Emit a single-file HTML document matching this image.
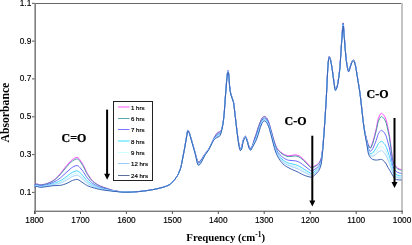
<!DOCTYPE html>
<html><head><meta charset="utf-8"><style>
html,body{margin:0;padding:0;background:#fff;}
svg{display:block;will-change:transform;}
.tk{font-family:"Liberation Sans",sans-serif;font-size:8.3px;fill:#000;stroke:#000;stroke-width:0.15px;}
.lg{font-family:"Liberation Sans",sans-serif;font-size:6.1px;fill:#000;stroke:#000;stroke-width:0.18px;}
.bt{font-family:"Liberation Serif",serif;font-weight:bold;fill:#000;}
</style></head><body>
<svg width="412" height="245" viewBox="0 0 412 245">
<rect width="412" height="245" fill="#fff"/>
<line x1="34.5" y1="3.5" x2="401.5" y2="3.5" stroke="#666" stroke-width="1"/>
<rect x="401" y="3" width="2" height="208" fill="#c4c4c4"/>
<rect x="34.4" y="3" width="1.6" height="211" fill="#7e7e7e"/>
<rect x="34" y="210.6" width="369" height="1.4" fill="#7a7a7a"/>
<line x1="32" y1="3.3" x2="34.5" y2="3.3" stroke="#555" stroke-width="1"/>
<text x="31.3" y="5.8" text-anchor="end" class="tk">1.1</text>
<line x1="32" y1="41.1" x2="34.5" y2="41.1" stroke="#555" stroke-width="1"/>
<text x="31.3" y="43.6" text-anchor="end" class="tk">0.9</text>
<line x1="32" y1="78.9" x2="34.5" y2="78.9" stroke="#555" stroke-width="1"/>
<text x="31.3" y="81.4" text-anchor="end" class="tk">0.7</text>
<line x1="32" y1="116.8" x2="34.5" y2="116.8" stroke="#555" stroke-width="1"/>
<text x="31.3" y="119.3" text-anchor="end" class="tk">0.5</text>
<line x1="32" y1="154.6" x2="34.5" y2="154.6" stroke="#555" stroke-width="1"/>
<text x="31.3" y="157.1" text-anchor="end" class="tk">0.3</text>
<line x1="32" y1="192.4" x2="34.5" y2="192.4" stroke="#555" stroke-width="1"/>
<text x="31.3" y="194.9" text-anchor="end" class="tk">0.1</text>
<line x1="34.5" y1="211" x2="34.5" y2="214" stroke="#555" stroke-width="1"/>
<text x="34.5" y="223" text-anchor="middle" class="tk">1800</text>
<line x1="80.5" y1="211" x2="80.5" y2="214" stroke="#555" stroke-width="1"/>
<text x="80.5" y="223" text-anchor="middle" class="tk">1700</text>
<line x1="126.4" y1="211" x2="126.4" y2="214" stroke="#555" stroke-width="1"/>
<text x="126.4" y="223" text-anchor="middle" class="tk">1600</text>
<line x1="172.4" y1="211" x2="172.4" y2="214" stroke="#555" stroke-width="1"/>
<text x="172.4" y="223" text-anchor="middle" class="tk">1500</text>
<line x1="218.3" y1="211" x2="218.3" y2="214" stroke="#555" stroke-width="1"/>
<text x="218.3" y="223" text-anchor="middle" class="tk">1400</text>
<line x1="264.2" y1="211" x2="264.2" y2="214" stroke="#555" stroke-width="1"/>
<text x="264.2" y="223" text-anchor="middle" class="tk">1300</text>
<line x1="310.2" y1="211" x2="310.2" y2="214" stroke="#555" stroke-width="1"/>
<text x="310.2" y="223" text-anchor="middle" class="tk">1200</text>
<line x1="356.2" y1="211" x2="356.2" y2="214" stroke="#555" stroke-width="1"/>
<text x="356.2" y="223" text-anchor="middle" class="tk">1100</text>
<line x1="402.1" y1="211" x2="402.1" y2="214" stroke="#555" stroke-width="1"/>
<text x="402.1" y="223" text-anchor="middle" class="tk">1000</text>

<path d="M34.50,184.60 35.75,184.15 36.75,184.01 37.50,184.06 39.25,184.68 40.00,184.80 41.75,184.67 44.50,184.20 46.50,183.66 49.00,182.72 50.75,181.92 52.50,180.91 55.25,178.93 56.75,177.54 58.25,175.96 60.75,173.10 66.50,165.74 71.00,160.73 72.50,159.46 74.50,158.24 75.75,157.64 77.00,157.40 77.50,157.49 78.00,157.75 79.00,158.66 80.00,159.95 82.25,163.27 83.50,165.50 86.25,171.40 87.50,173.74 90.75,178.63 92.00,180.18 93.00,181.21 94.50,182.46 96.25,183.71 98.25,184.91 100.25,185.92 103.25,187.12 112.00,190.12 114.50,190.74 117.25,191.19 120.75,191.68 123.75,191.95 126.75,192.00 132.00,191.90 136.00,191.76 139.25,191.51 145.25,190.82 149.25,190.26 153.50,189.52 157.75,188.62 162.00,187.57 164.75,186.75 167.25,185.78 169.75,184.53 170.75,183.72 173.75,180.63 175.00,179.17 176.25,177.47 177.50,175.50 178.50,173.59 180.25,169.23 181.00,166.71 181.50,164.40 184.50,148.70 187.25,132.45 187.50,131.12 187.75,130.42 188.00,130.46 188.50,131.00 189.50,132.96 193.00,145.05 196.75,158.57 197.75,161.03 198.25,161.75 198.50,161.80 199.00,161.65 199.75,161.23 200.50,160.54 202.00,158.49 204.50,154.50 207.50,150.68 208.50,149.26 210.00,146.53 213.75,138.43 215.25,135.69 216.25,134.12 217.25,132.96 218.00,132.31 218.50,132.08 219.75,131.72 220.25,131.43 220.75,130.88 221.25,130.08 221.75,128.89 222.50,125.72 223.25,121.42 223.75,117.44 224.25,112.44 225.25,98.02 226.75,78.71 227.00,76.00 227.50,72.26 227.75,70.99 228.00,70.50 228.25,70.95 228.75,73.66 229.00,76.27 229.50,84.82 230.25,91.13 231.00,94.49 233.25,101.10 233.75,103.18 237.00,130.86 238.00,138.67 239.00,144.73 239.75,147.57 240.25,148.72 240.50,148.78 241.00,148.30 241.75,146.81 242.75,141.80 243.25,139.87 244.50,137.03 245.00,136.38 245.25,136.23 245.50,136.22 245.75,136.44 246.25,137.45 247.50,141.10 248.50,144.88 249.00,146.41 249.75,147.59 250.25,148.12 250.75,148.30 251.00,148.17 251.25,147.88 252.25,145.91 252.75,144.61 254.25,139.35 256.00,134.30 258.00,127.80 260.00,122.34 261.50,119.05 262.25,117.79 263.50,116.61 264.00,116.35 264.50,116.32 265.00,116.50 265.50,116.82 266.75,118.02 267.50,119.30 268.50,121.50 269.50,124.49 273.75,139.63 274.75,142.86 276.00,146.14 276.75,147.75 277.50,148.92 278.75,150.41 280.50,151.98 283.00,153.81 284.50,154.60 287.25,155.65 288.00,155.78 289.00,155.77 294.00,155.01 295.50,154.90 297.00,155.12 299.00,155.81 300.50,156.76 303.25,159.05 308.25,164.26 309.75,166.04 310.50,166.77 311.25,167.17 311.75,167.19 312.75,166.95 313.75,166.49 316.25,165.13 317.50,164.31 318.75,163.17 319.50,162.18 320.50,160.09 321.25,157.82 322.00,153.68 323.00,145.00 324.75,122.17 326.25,98.45 327.75,67.88 328.25,61.56 328.75,57.62 329.00,56.60 329.25,56.55 329.50,56.80 330.25,58.38 330.75,60.11 332.00,67.25 334.50,85.53 335.00,88.35 335.25,89.07 335.50,89.18 335.75,89.02 336.25,88.27 336.75,87.13 337.25,85.71 338.00,81.87 339.00,75.08 339.75,68.68 340.25,62.59 341.00,50.00 342.50,28.27 342.75,24.82 343.00,22.80 343.25,23.01 343.50,25.20 345.25,49.28 346.00,57.21 346.50,61.54 347.50,67.34 348.00,69.50 348.25,70.20 348.50,70.57 348.75,70.54 349.25,69.61 351.50,62.43 352.00,61.26 352.25,60.95 353.00,60.37 353.75,60.10 354.00,60.22 354.25,60.69 354.75,62.31 355.50,65.36 356.00,68.08 359.75,91.21 360.50,97.03 363.25,121.78 364.00,127.11 364.75,131.28 365.75,135.79 367.50,142.24 368.25,144.47 369.25,146.37 370.00,147.34 370.25,147.48 370.50,147.48 370.75,147.28 371.25,146.36 372.75,142.19 374.50,135.82 376.25,128.52 377.75,120.84 378.25,118.74 379.50,115.65 380.50,113.90 381.00,113.43 381.25,113.32 381.75,113.36 382.25,113.62 383.50,114.89 384.25,115.83 384.75,116.65 386.00,119.52 386.75,122.13 389.25,134.21 390.00,139.24 392.25,156.42 392.75,159.22 393.75,162.90 394.25,164.10 395.00,165.33 396.25,166.80 397.25,167.78 398.00,168.30 399.50,169.02 400.50,169.37 401.50,169.50" stroke="#ff33ff" stroke-width="0.9" fill="none"/>
<path d="M34.50,184.75 35.75,184.32 36.75,184.18 37.50,184.23 39.25,184.86 40.00,184.98 41.75,184.86 44.50,184.39 46.75,183.79 49.25,182.87 51.00,182.08 52.75,181.10 54.50,179.95 55.75,178.98 58.75,176.12 60.75,173.95 66.50,166.98 69.75,163.42 71.25,161.92 72.50,160.93 74.75,159.61 76.00,159.09 77.00,158.94 77.75,159.13 78.50,159.66 79.25,160.45 80.25,161.76 82.25,164.60 83.00,165.82 86.25,172.35 87.50,174.58 90.50,178.90 91.75,180.41 93.00,181.66 94.50,182.86 96.25,184.06 98.25,185.20 100.25,186.17 103.25,187.33 112.00,190.19 114.50,190.78 117.75,191.30 121.25,191.76 124.00,191.98 132.00,191.91 136.00,191.76 139.25,191.51 145.25,190.82 149.25,190.25 153.50,189.51 157.75,188.62 162.00,187.57 164.75,186.75 167.25,185.78 169.75,184.53 170.75,183.72 173.75,180.63 175.00,179.17 176.25,177.47 177.50,175.50 178.50,173.59 180.25,169.23 181.00,166.71 181.50,164.40 184.50,148.72 187.25,132.49 187.50,131.16 187.75,130.47 188.00,130.50 188.50,131.05 189.50,133.02 193.25,145.99 196.75,158.75 197.75,161.26 198.25,161.99 198.50,162.04 199.00,161.90 199.75,161.47 200.50,160.76 202.00,158.67 204.50,154.60 207.50,150.75 208.50,149.32 210.00,146.59 213.75,138.56 216.00,134.72 217.00,133.53 217.75,132.83 218.25,132.51 219.75,132.02 220.25,131.71 220.75,131.10 221.25,130.22 221.75,128.97 222.50,125.78 223.25,121.47 223.75,117.49 224.25,112.48 225.25,98.06 226.75,78.81 227.00,76.11 227.50,72.37 227.75,71.09 228.00,70.61 228.25,71.05 228.75,73.77 229.00,76.37 229.50,84.88 230.25,91.17 231.00,94.53 233.25,101.14 233.75,103.22 237.00,130.92 238.00,138.74 239.00,144.83 239.75,147.68 240.25,148.84 240.50,148.91 241.00,148.43 241.75,146.96 242.75,141.92 243.25,139.98 244.50,137.11 245.00,136.45 245.25,136.30 245.50,136.29 245.75,136.51 246.25,137.52 247.50,141.19 248.50,144.99 249.00,146.53 249.75,147.72 250.25,148.26 250.75,148.44 251.00,148.30 251.25,148.01 252.25,146.02 252.75,144.75 254.00,140.45 256.25,134.00 258.00,128.32 260.25,122.17 261.50,119.43 262.25,118.14 263.50,116.94 264.00,116.68 264.50,116.65 265.00,116.82 265.50,117.15 266.25,117.78 266.75,118.35 267.50,119.64 268.50,121.85 269.50,124.84 273.75,140.05 274.75,143.31 276.00,146.61 276.75,148.23 277.75,149.77 279.00,151.23 281.00,153.03 283.00,154.52 284.25,155.23 287.00,156.40 288.00,156.61 288.75,156.63 294.00,156.10 295.75,156.03 297.00,156.26 299.00,156.98 300.50,157.92 303.25,160.16 308.25,165.12 309.75,166.80 310.50,167.49 311.25,167.87 311.75,167.89 312.50,167.72 313.50,167.28 316.25,165.72 317.50,164.87 318.75,163.70 319.50,162.68 320.50,160.55 321.25,158.24 322.00,153.99 323.00,145.18 324.75,122.24 326.25,98.52 327.75,67.95 328.25,61.63 328.75,57.69 329.00,56.67 329.25,56.62 329.50,56.87 330.25,58.45 330.75,60.18 332.00,67.32 334.50,85.61 335.00,88.44 335.25,89.16 335.50,89.28 335.75,89.11 336.25,88.35 336.75,87.21 337.25,85.77 338.00,81.93 339.00,75.15 339.75,68.75 340.25,62.67 341.00,50.10 342.50,28.45 342.75,25.01 343.00,23.01 343.25,23.21 343.50,25.39 345.25,49.35 346.00,57.27 346.50,61.60 347.50,67.42 348.00,69.58 348.25,70.29 348.50,70.65 348.75,70.62 349.25,69.69 351.25,63.26 352.00,61.33 352.25,61.02 353.00,60.43 353.75,60.16 354.00,60.29 354.25,60.75 354.75,62.37 355.50,65.41 356.00,68.13 359.75,91.25 360.50,97.06 363.25,121.81 364.00,127.17 364.75,131.39 365.75,135.98 367.50,142.70 368.25,145.07 369.25,147.04 370.00,148.03 370.25,148.18 370.50,148.18 370.75,148.00 371.25,147.18 372.75,143.40 374.50,137.51 376.50,129.67 378.00,122.52 378.50,120.93 379.75,118.25 380.50,117.09 381.00,116.65 381.25,116.54 381.75,116.59 382.25,116.85 383.50,118.10 384.25,119.02 384.75,119.82 386.00,122.61 386.75,125.13 389.25,136.67 390.00,141.44 392.25,157.70 392.75,160.37 393.75,163.92 394.25,165.08 395.00,166.27 396.25,167.69 397.25,168.62 398.00,169.11 399.50,169.79 400.50,170.11 401.50,170.24" stroke="#339999" stroke-width="0.9" fill="none"/>
<path d="M34.50,185.41 35.75,185.04 37.00,184.93 37.75,185.06 39.25,185.63 40.00,185.76 41.50,185.67 44.00,185.30 46.25,184.83 49.00,184.03 51.00,183.33 53.25,182.38 56.50,180.64 60.25,178.02 70.00,169.13 71.75,167.70 72.75,167.08 75.00,166.00 76.00,165.67 77.00,165.54 77.50,165.62 78.25,165.98 79.00,166.59 79.75,167.37 83.00,171.32 86.25,176.46 87.50,178.18 90.50,181.48 91.75,182.63 93.00,183.60 94.75,184.71 96.50,185.66 98.50,186.58 100.50,187.35 103.00,188.13 108.50,189.62 113.00,190.71 115.00,191.06 120.00,191.73 124.75,192.10 129.00,192.06 135.00,191.84 140.50,191.39 146.00,190.72 150.00,190.13 154.25,189.36 158.25,188.50 162.25,187.50 165.00,186.66 167.50,185.67 169.75,184.53 170.75,183.72 173.75,180.63 175.00,179.17 176.25,177.47 177.50,175.50 178.50,173.59 180.25,169.23 181.00,166.71 181.50,164.41 184.50,148.81 187.25,132.65 187.50,131.34 187.75,130.64 188.00,130.68 188.50,131.25 189.25,132.69 189.75,134.00 194.50,150.69 197.00,160.36 198.00,162.74 198.25,163.04 198.50,163.09 199.00,162.94 199.75,162.49 200.50,161.73 202.00,159.45 204.50,155.06 208.50,149.59 210.00,146.85 213.25,140.00 214.00,138.66 215.25,136.78 216.25,135.53 217.25,134.62 218.25,133.95 219.50,133.45 220.00,133.15 220.25,132.89 220.75,132.02 221.50,130.15 222.25,127.28 223.00,123.30 223.50,119.81 224.25,112.66 225.25,98.25 226.75,79.22 227.00,76.56 227.50,72.83 227.75,71.55 228.00,71.06 228.25,71.50 228.75,74.22 229.00,76.79 229.50,85.14 230.25,91.34 231.00,94.68 233.25,101.31 233.75,103.40 237.00,131.17 238.00,139.02 239.00,145.24 239.75,148.18 240.25,149.38 240.50,149.45 241.00,149.01 241.75,147.59 242.75,142.43 243.25,140.42 244.50,137.44 245.00,136.76 245.25,136.60 245.50,136.59 245.75,136.82 246.25,137.85 247.50,141.59 248.50,145.45 249.00,147.03 249.75,148.27 250.25,148.84 250.75,149.04 251.00,148.89 251.25,148.58 252.50,145.99 254.25,141.03 256.00,136.68 259.75,125.31 261.25,121.58 262.00,120.05 263.00,118.83 263.50,118.38 264.00,118.09 264.25,118.04 264.75,118.12 265.75,118.76 266.75,119.77 267.50,121.09 268.50,123.35 269.50,126.34 274.00,142.78 275.25,146.67 276.25,149.22 277.00,150.78 278.25,152.72 279.75,154.54 281.50,156.27 283.00,157.55 284.25,158.42 286.25,159.48 287.50,159.99 288.50,160.22 295.75,160.90 297.00,161.22 298.50,161.78 300.00,162.59 302.75,164.54 310.50,170.60 311.25,170.88 311.75,170.88 312.25,170.77 313.00,170.44 317.25,167.51 318.25,166.56 319.25,165.27 320.00,163.82 320.75,161.78 321.25,160.02 321.75,157.19 322.50,151.01 323.00,145.92 324.50,126.18 326.25,98.82 327.75,68.25 328.25,61.93 328.75,57.99 329.00,56.97 329.25,56.92 329.50,57.17 330.25,58.75 330.75,60.48 332.00,67.62 334.50,85.96 335.00,88.82 335.25,89.55 335.50,89.66 336.00,89.16 336.50,88.15 337.25,86.06 337.75,83.69 339.00,75.45 339.75,69.04 340.25,62.99 341.00,50.55 342.50,29.19 342.75,25.83 343.00,23.87 343.25,24.07 343.50,26.20 345.25,49.67 346.00,57.55 346.50,61.89 347.50,67.75 348.00,69.93 348.25,70.64 348.50,71.01 348.75,70.98 349.25,70.03 351.25,63.56 352.00,61.63 353.00,60.71 353.75,60.43 354.00,60.56 354.25,61.01 354.75,62.62 355.50,65.65 356.00,68.35 359.75,91.42 360.50,97.18 363.25,121.91 364.25,129.01 365.50,135.69 367.75,145.79 368.50,148.33 369.50,150.37 370.00,151.02 370.25,151.17 370.75,151.10 371.50,150.41 372.75,148.62 374.50,144.74 376.25,140.20 377.75,135.31 378.50,133.47 379.75,131.58 380.75,130.57 381.25,130.37 381.50,130.36 382.00,130.52 382.50,130.85 384.25,132.71 385.00,133.83 386.00,135.85 386.75,137.98 389.25,147.24 390.00,150.88 392.25,163.18 392.75,165.28 393.75,168.26 394.25,169.26 395.00,170.31 395.75,171.07 397.00,172.04 397.75,172.45 399.50,173.06 400.50,173.29 401.50,173.39" stroke="#5a5aff" stroke-width="0.9" fill="none"/>
<path d="M34.50,185.94 35.75,185.62 37.00,185.53 37.75,185.66 39.75,186.37 41.00,186.34 42.50,186.17 45.25,185.74 48.25,185.06 51.75,184.12 55.00,183.05 58.50,181.67 61.00,180.39 64.50,178.02 67.75,175.67 70.75,173.35 72.25,172.38 75.25,171.13 76.25,170.88 77.00,170.82 78.00,171.07 79.25,171.95 82.75,175.43 86.00,179.44 87.25,180.83 90.25,183.36 93.00,185.15 96.75,186.91 100.75,188.27 109.00,190.15 114.00,191.08 121.00,191.93 125.25,192.18 129.50,192.11 135.25,191.85 141.50,191.28 146.50,190.65 150.75,190.00 154.75,189.26 158.75,188.38 162.50,187.43 165.00,186.66 167.50,185.67 169.75,184.53 170.75,183.72 173.75,180.63 175.00,179.17 176.25,177.47 177.50,175.50 178.50,173.59 180.25,169.23 181.00,166.71 181.50,164.41 184.50,148.88 187.25,132.78 187.50,131.47 187.75,130.79 188.00,130.83 188.50,131.41 189.25,132.88 189.75,134.20 194.75,151.78 195.50,154.61 197.00,161.04 198.00,163.57 198.25,163.88 198.50,163.93 199.00,163.78 199.75,163.31 200.50,162.50 202.00,160.07 204.50,155.41 208.50,149.81 209.75,147.56 212.75,141.29 214.25,138.75 215.25,137.48 216.25,136.45 217.75,135.39 219.75,134.36 220.25,133.84 220.50,133.36 221.50,130.52 222.00,128.63 222.75,124.94 223.50,119.96 224.25,112.80 225.25,98.40 226.75,79.55 227.00,76.92 227.50,73.19 227.75,71.91 228.00,71.42 228.25,71.87 228.75,74.58 229.00,77.13 229.50,85.35 230.25,91.47 231.00,94.79 233.25,101.44 233.75,103.55 237.00,131.38 238.00,139.25 239.00,145.57 239.75,148.58 240.25,149.81 240.50,149.88 241.00,149.47 241.75,148.10 243.00,141.62 243.25,140.78 244.50,137.71 245.00,137.00 245.25,136.84 245.50,136.83 245.75,137.06 246.25,138.11 247.50,141.91 248.50,145.82 249.00,147.42 249.75,148.72 250.25,149.31 250.75,149.52 251.00,149.36 251.50,148.57 252.50,146.42 254.25,142.13 256.25,137.57 260.00,126.09 261.50,122.30 262.25,120.88 263.25,119.75 264.00,119.22 264.25,119.17 264.75,119.25 265.75,119.88 266.75,120.90 267.50,122.25 268.50,124.55 269.25,126.70 270.75,131.93 274.25,145.17 275.50,148.95 276.50,151.42 277.50,153.36 279.00,155.63 280.50,157.47 282.00,159.05 283.50,160.40 285.00,161.44 286.75,162.39 288.00,162.92 289.25,163.32 295.25,164.66 297.75,165.47 299.75,166.46 306.00,170.48 310.25,172.97 311.00,173.24 311.50,173.30 312.00,173.23 312.75,172.91 317.25,169.46 318.25,168.42 319.25,167.03 320.00,165.49 320.75,163.32 321.25,161.45 321.75,158.39 323.00,146.52 324.25,130.08 326.25,99.06 327.75,68.49 328.25,62.17 328.75,58.23 329.00,57.21 329.25,57.16 329.50,57.41 330.00,58.38 330.50,59.71 331.00,61.95 332.00,67.86 334.50,86.24 335.00,89.13 335.25,89.86 335.50,89.98 336.00,89.46 336.50,88.42 337.25,86.29 338.00,82.45 339.00,75.69 339.75,69.28 340.25,63.25 341.00,50.91 342.50,29.79 342.75,26.49 343.00,24.56 343.25,24.76 343.50,26.85 345.25,49.93 346.00,57.78 346.50,62.13 347.50,68.01 348.00,70.21 348.25,70.93 348.50,71.30 348.75,71.27 349.25,70.31 350.25,66.87 351.75,62.39 352.25,61.56 353.25,60.79 353.75,60.65 354.00,60.77 354.50,61.94 355.00,63.80 355.50,65.84 356.00,68.53 360.00,93.31 363.25,121.99 364.25,129.27 365.25,135.05 366.75,142.18 367.75,147.56 368.50,150.49 369.50,152.71 370.00,153.41 370.25,153.57 371.25,153.49 372.50,153.03 373.25,152.22 375.50,149.02 376.50,147.34 378.00,144.22 378.50,143.50 379.75,142.24 380.75,141.57 381.50,141.43 382.00,141.58 382.50,141.90 384.00,143.38 384.75,144.30 385.75,145.96 386.50,147.58 389.50,156.54 392.50,168.44 393.25,170.57 394.00,172.22 394.50,172.95 395.25,173.79 396.00,174.36 397.00,174.94 397.75,175.24 399.25,175.62 400.50,175.84 401.50,175.91" stroke="#33ccff" stroke-width="0.9" fill="none"/>
<path d="M34.50,186.18 35.75,185.88 37.00,185.80 37.75,185.94 39.75,186.65 41.00,186.63 42.50,186.46 45.75,185.95 49.75,185.09 57.75,182.98 60.25,182.11 62.50,180.95 67.50,177.88 70.75,175.58 72.25,174.68 75.25,173.53 76.25,173.30 77.00,173.24 77.50,173.30 78.25,173.60 79.50,174.50 82.75,177.48 86.00,180.98 87.50,182.39 90.25,184.33 93.00,185.86 97.00,187.52 101.00,188.72 109.50,190.42 115.00,191.28 121.75,192.04 126.00,192.22 130.00,192.12 135.75,191.83 142.75,191.13 147.50,190.51 151.75,189.83 155.75,189.06 159.75,188.14 163.00,187.29 165.50,186.48 167.75,185.56 169.75,184.53 170.75,183.72 173.75,180.63 175.00,179.17 176.25,177.47 177.50,175.50 178.50,173.59 180.25,169.23 181.00,166.71 181.50,164.42 184.50,148.92 187.25,132.84 187.50,131.54 187.75,130.85 188.00,130.89 188.50,131.48 189.25,132.97 189.75,134.29 195.00,152.79 197.00,161.35 198.00,163.94 198.25,164.26 198.50,164.31 199.25,164.02 200.00,163.48 200.75,162.46 202.00,160.35 204.50,155.58 208.00,150.67 209.00,149.07 212.50,141.91 214.00,139.32 215.00,138.08 216.25,136.87 217.25,136.19 219.50,135.01 220.00,134.62 220.25,134.28 221.00,132.33 222.00,128.75 222.75,125.04 223.50,120.04 224.25,112.87 225.25,98.47 226.75,79.70 227.50,73.36 227.75,72.07 228.00,71.58 228.25,72.03 228.75,74.75 229.00,77.28 229.50,85.44 230.25,91.54 231.00,94.85 233.25,101.51 233.75,103.62 237.00,131.47 238.00,139.35 239.00,145.72 239.75,148.77 240.25,150.01 240.50,150.08 241.00,149.67 241.75,148.34 243.00,141.79 243.25,140.94 244.50,137.84 245.00,137.12 245.25,136.95 245.50,136.94 245.75,137.17 246.25,138.23 247.50,142.06 248.50,145.99 249.00,147.60 249.75,148.92 250.25,149.53 250.75,149.74 251.00,149.58 251.50,148.77 252.75,146.09 256.25,138.30 258.25,132.44 260.00,126.76 261.75,122.34 262.50,121.10 263.50,120.05 264.00,119.74 264.25,119.69 264.75,119.77 265.75,120.40 266.75,121.42 267.50,122.78 268.75,125.75 271.00,133.39 274.50,146.73 276.25,151.60 277.00,153.23 278.25,155.41 279.50,157.21 280.75,158.75 282.25,160.38 283.75,161.75 285.25,162.79 287.00,163.75 289.50,164.77 295.50,166.49 298.25,167.51 299.50,168.15 302.00,169.73 305.50,171.75 310.25,174.13 311.50,174.40 312.00,174.33 312.50,174.13 313.50,173.46 317.00,170.59 318.00,169.58 319.00,168.25 319.75,166.84 320.50,164.85 321.25,162.10 321.50,160.73 322.00,156.85 322.75,149.63 324.25,130.25 326.25,99.17 327.75,68.60 328.25,62.28 328.75,58.34 329.00,57.32 329.25,57.27 329.50,57.52 330.00,58.49 330.50,59.82 331.00,62.06 332.00,67.97 334.50,86.37 335.00,89.27 335.25,90.00 335.50,90.12 336.00,89.60 336.50,88.54 337.25,86.40 338.00,82.56 339.00,75.80 339.75,69.39 340.25,63.37 341.00,51.08 342.50,30.06 342.75,26.79 343.00,24.88 343.25,25.08 343.50,27.15 345.25,50.04 346.25,60.19 346.75,63.93 347.50,68.13 348.00,70.34 348.25,71.06 348.50,71.43 348.75,71.40 349.00,71.04 351.75,62.50 352.25,61.67 353.00,61.04 353.75,60.75 354.00,60.87 354.25,61.32 354.75,62.92 355.50,65.92 357.50,77.71 360.00,93.36 363.25,122.03 364.25,129.40 365.25,135.30 366.75,142.66 367.75,148.37 368.50,151.48 369.25,153.25 370.00,154.46 370.25,154.65 370.75,154.76 372.50,154.84 373.25,154.33 375.25,152.41 376.50,150.94 378.00,148.64 379.00,147.69 380.00,146.97 381.00,146.54 381.75,146.55 382.50,146.96 384.00,148.40 384.75,149.28 385.75,150.84 386.50,152.35 389.50,160.29 392.50,170.33 393.25,172.25 394.00,173.78 394.50,174.47 395.25,175.25 395.75,175.63 396.75,176.16 397.75,176.52 399.00,176.78 401.50,177.06" stroke="#bff2ff" stroke-width="0.9" fill="none"/>
<path d="M34.50,186.38 35.75,186.10 37.00,186.03 37.75,186.16 39.75,186.89 41.75,186.79 46.50,186.07 59.25,183.44 61.25,182.78 64.50,181.23 67.75,179.40 70.75,177.41 72.25,176.56 75.25,175.49 77.00,175.22 77.50,175.28 78.25,175.56 79.50,176.40 82.75,179.15 86.00,182.25 87.50,183.47 90.75,185.39 94.50,187.05 98.75,188.47 102.75,189.39 112.00,190.95 120.25,191.93 123.00,192.16 125.50,192.24 133.00,191.99 139.50,191.51 148.25,190.39 155.50,189.11 162.25,187.50 166.25,186.20 168.00,185.44 169.75,184.53 170.75,183.72 173.75,180.63 175.00,179.17 176.25,177.47 177.50,175.50 178.50,173.59 180.25,169.23 181.00,166.71 181.50,164.42 184.50,148.94 187.25,132.89 187.50,131.59 187.75,130.91 188.00,130.95 188.50,131.54 189.25,133.04 189.75,134.37 195.00,152.87 197.00,161.61 198.00,164.25 198.25,164.58 198.50,164.63 199.25,164.33 200.00,163.78 200.75,162.74 202.00,160.59 204.50,155.72 205.50,154.19 208.00,150.75 209.00,149.15 212.50,142.01 214.00,139.48 215.00,138.33 216.00,137.41 217.00,136.73 219.50,135.41 220.00,135.00 220.25,134.63 221.00,132.55 222.00,128.85 222.75,125.12 223.50,120.10 224.25,112.92 225.25,98.53 226.75,79.82 227.50,73.49 227.75,72.21 228.00,71.72 228.25,72.17 228.75,74.88 229.00,77.41 229.50,85.52 230.25,91.59 231.00,94.89 233.25,101.56 233.75,103.67 237.00,131.55 238.00,139.43 239.00,145.85 239.75,148.92 240.25,150.17 240.50,150.24 241.00,149.85 241.75,148.53 243.00,141.93 243.25,141.07 244.50,137.94 245.00,137.21 245.25,137.04 245.50,137.03 245.75,137.27 246.25,138.33 247.50,142.18 248.50,146.13 249.00,147.75 249.75,149.09 250.25,149.71 250.75,149.91 251.00,149.75 251.50,148.93 256.25,138.90 258.25,133.12 260.25,126.58 261.75,122.81 262.50,121.55 263.50,120.48 264.00,120.17 264.25,120.11 264.75,120.19 265.75,120.82 266.75,121.85 267.50,123.22 268.75,126.20 269.50,128.54 271.00,133.85 274.50,147.30 276.25,152.21 277.25,154.35 278.50,156.50 279.75,158.31 281.25,160.16 282.75,161.77 284.25,163.08 285.75,164.08 287.75,165.14 290.25,166.18 295.50,167.94 298.25,169.01 299.50,169.66 302.25,171.34 304.75,172.66 306.75,173.62 309.75,174.90 311.25,175.29 311.75,175.28 312.50,175.01 313.50,174.31 317.00,171.33 318.00,170.29 319.00,168.92 319.75,167.48 320.50,165.44 321.25,162.64 321.50,161.23 322.00,157.24 322.75,149.88 324.25,130.39 326.25,99.26 327.75,68.69 328.25,62.37 328.75,58.43 329.00,57.41 329.25,57.36 329.50,57.61 330.00,58.58 330.50,59.91 331.00,62.15 332.00,68.06 334.50,86.48 335.00,89.38 335.25,90.12 335.50,90.24 336.00,89.71 336.50,88.64 337.25,86.48 338.00,82.64 339.00,75.89 339.75,69.47 340.25,63.46 341.00,51.22 342.50,30.29 342.75,27.03 343.00,25.14 343.25,25.34 343.50,27.39 345.25,50.14 346.25,60.27 346.75,64.02 347.50,68.23 348.00,70.44 348.25,71.16 348.50,71.54 348.75,71.51 349.00,71.15 351.75,62.59 352.25,61.76 353.00,61.12 353.75,60.83 354.00,60.95 354.25,61.40 354.75,62.99 355.50,65.99 357.25,76.25 360.00,93.41 363.25,122.06 364.25,129.50 365.00,134.12 366.75,143.05 367.75,149.04 368.50,152.29 369.25,154.04 370.00,155.24 370.50,155.66 371.25,156.05 372.00,156.28 372.50,156.28 374.00,155.63 375.25,154.86 376.50,153.88 378.25,152.03 379.75,151.13 380.50,150.80 381.25,150.65 381.75,150.69 382.50,151.11 384.50,153.05 385.25,154.06 386.25,155.72 388.00,160.00 389.50,163.36 392.50,171.88 393.50,174.15 394.00,175.06 395.25,176.46 395.75,176.80 396.75,177.26 397.75,177.57 399.00,177.78 401.50,178.01" stroke="#99ccff" stroke-width="0.9" fill="none"/>
<path d="M34.50,186.80 35.75,186.55 37.25,186.52 39.50,187.33 40.75,187.38 44.50,186.94 53.00,185.71 60.75,185.31 63.75,184.53 66.00,183.70 68.00,182.82 71.00,181.13 72.50,180.43 75.50,179.57 77.25,179.41 78.00,179.60 79.00,180.10 85.50,184.59 87.50,185.75 90.75,186.98 97.00,188.81 99.25,189.35 101.75,189.81 110.75,191.01 121.75,192.13 124.25,192.28 126.75,192.29 132.25,192.07 138.75,191.59 146.25,190.68 152.50,189.69 158.00,188.56 163.50,187.14 166.75,186.00 169.75,184.53 170.75,183.72 173.75,180.63 175.00,179.17 176.25,177.47 177.50,175.50 178.50,173.59 180.25,169.23 181.00,166.71 181.50,164.42 184.50,149.00 187.25,133.00 187.50,131.70 187.75,131.02 188.00,131.06 188.50,131.67 189.25,133.19 189.75,134.52 195.00,153.02 195.75,156.11 197.00,162.15 198.00,164.90 198.25,165.24 198.50,165.29 199.00,165.13 199.75,164.64 200.50,163.75 202.00,161.08 204.50,156.00 205.50,154.43 208.00,150.93 209.00,149.32 212.25,142.70 213.75,140.16 214.50,139.30 215.50,138.45 216.75,137.67 219.25,136.44 220.00,135.80 220.25,135.38 221.00,133.02 222.25,127.91 223.00,123.80 223.50,120.22 224.25,113.04 225.25,98.65 226.75,80.08 227.50,73.78 227.75,72.50 228.00,72.00 228.25,72.45 228.75,75.17 229.00,77.67 229.50,85.68 230.25,91.69 231.00,94.99 233.25,101.66 233.75,103.79 237.00,131.71 238.00,139.61 239.00,146.11 239.75,149.23 240.25,150.51 240.50,150.59 241.00,150.21 241.75,148.93 243.00,142.23 243.25,141.36 244.50,138.15 245.00,137.40 245.25,137.23 245.50,137.22 245.75,137.46 246.25,138.53 247.50,142.43 249.00,148.07 249.75,149.44 250.25,150.08 250.50,150.25 250.75,150.29 251.00,150.12 251.50,149.26 252.25,147.59 255.75,141.23 256.50,139.56 258.25,134.54 260.25,127.71 261.75,123.81 262.50,122.50 263.50,121.39 264.00,121.06 264.25,121.00 264.75,121.08 265.75,121.71 266.75,122.75 267.50,124.14 268.75,127.15 269.50,129.49 271.00,134.81 274.50,148.52 275.25,150.84 276.25,153.50 277.25,155.70 278.75,158.40 280.25,160.64 281.75,162.55 283.00,163.94 284.25,165.10 285.50,166.02 286.75,166.79 291.50,169.27 298.50,172.30 302.25,174.43 305.75,175.85 309.00,176.79 311.00,177.18 311.75,177.18 312.25,177.02 313.25,176.34 317.00,172.90 318.00,171.79 318.75,170.74 319.50,169.39 320.25,167.49 321.00,164.85 321.50,162.28 322.75,150.40 324.25,130.68 326.25,99.45 327.75,68.88 328.25,62.56 328.75,58.62 329.00,57.60 329.25,57.55 329.50,57.80 330.25,59.38 330.75,61.11 332.00,68.25 334.75,88.35 335.00,89.62 335.25,90.37 335.50,90.48 335.75,90.30 336.25,89.45 337.25,86.67 337.75,84.29 338.75,77.85 339.50,72.03 340.00,67.00 341.50,44.49 342.75,27.55 343.00,25.69 343.25,25.88 343.50,27.90 345.25,50.34 346.25,60.45 346.75,64.21 347.50,68.43 348.00,70.66 348.25,71.39 348.50,71.76 348.75,71.74 349.00,71.37 349.50,69.97 350.25,67.26 351.75,62.79 352.25,61.95 353.25,61.15 353.75,61.00 354.00,61.12 354.25,61.57 354.75,63.15 355.75,67.40 360.00,93.50 363.25,122.12 364.25,129.71 365.25,135.94 366.75,143.87 368.00,151.89 368.50,154.00 369.25,155.75 370.00,156.97 371.50,158.73 372.50,159.39 374.00,159.82 376.25,160.10 377.25,160.01 380.50,159.47 381.50,159.40 382.00,159.55 382.75,160.05 384.75,161.97 386.25,164.04 388.00,167.50 389.50,169.83 393.50,176.95 394.25,178.05 395.50,179.16 396.50,179.52 398.00,179.80 401.50,180.00" stroke="#2d55aa" stroke-width="0.9" fill="none"/>
<rect x="113.5" y="101.5" width="39" height="79" fill="#fff" stroke="#222" stroke-width="1"/>
<line x1="118" y1="107.00" x2="129.5" y2="107.00" stroke="#ffaaff" stroke-width="2"/>
<text x="131" y="109.50" class="lg">1 hrs</text>
<line x1="118" y1="118.50" x2="129.5" y2="118.50" stroke="#55aaaa" stroke-width="1"/>
<text x="131" y="121.00" class="lg">6 hrs</text>
<line x1="118" y1="129.50" x2="129.5" y2="129.50" stroke="#7777ff" stroke-width="1"/>
<text x="131" y="132.00" class="lg">7 hrs</text>
<line x1="118" y1="141.00" x2="129.5" y2="141.00" stroke="#99eeff" stroke-width="2"/>
<text x="131" y="143.50" class="lg">8 hrs</text>
<line x1="118" y1="152.50" x2="129.5" y2="152.50" stroke="#ccffff" stroke-width="1"/>
<text x="131" y="155.00" class="lg">9 hrs</text>
<line x1="118" y1="163.50" x2="129.5" y2="163.50" stroke="#99ccff" stroke-width="1"/>
<text x="131" y="166.00" class="lg">12 hrs</text>
<line x1="118" y1="175.50" x2="129.5" y2="175.50" stroke="#5a6f9a" stroke-width="1"/>
<text x="131" y="178.00" class="lg">24 hrs</text>

<line x1="107.1" y1="109.6" x2="107.1" y2="174.3" stroke="#000" stroke-width="2"/><path d="M104.1,173.8 L110.1,173.8 L107.1,179.8 Z" fill="#000"/>

<line x1="312.3" y1="135.7" x2="312.3" y2="200.9" stroke="#000" stroke-width="2"/><path d="M309.3,200.4 L315.3,200.4 L312.3,206.4 Z" fill="#000"/>

<line x1="394.5" y1="118" x2="394.5" y2="182.5" stroke="#000" stroke-width="2"/><path d="M391.5,182 L397.5,182 L394.5,188 Z" fill="#000"/>

<text class="bt" font-size="12" x="61.5" y="141.7" stroke="#000" stroke-width="0.25">C=O</text>
<text class="bt" font-size="12" x="284.5" y="124.6" stroke="#000" stroke-width="0.25">C-O</text>
<text class="bt" font-size="12" x="366.5" y="97.9" stroke="#000" stroke-width="0.25">C-O</text>
<text class="bt" font-size="11.7" transform="translate(9.4,112.6) rotate(-90)" text-anchor="middle">Absorbance</text>
<text class="bt" font-size="10.8" x="186.3" y="241.2">Frequency (cm<tspan font-size="7.5" dy="-4">-1</tspan><tspan dy="4">)</tspan></text>
</svg>
</body></html>
